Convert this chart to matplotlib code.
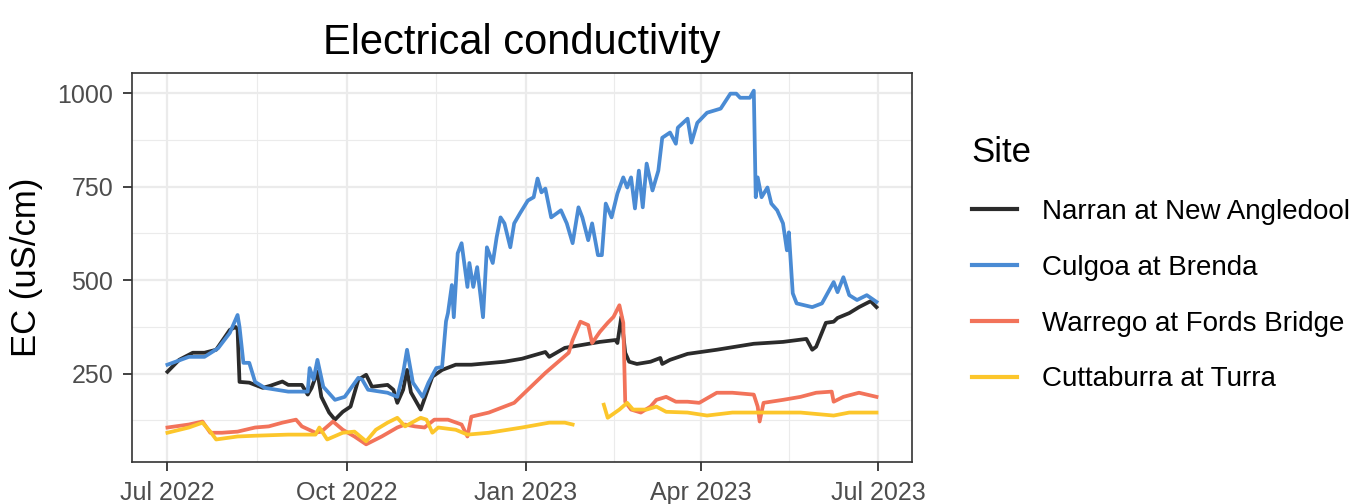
import matplotlib
matplotlib.use("Agg")
import matplotlib.pyplot as plt
import matplotlib.dates as mdates
import numpy as np
import pandas as pd

plt.rcParams['font.family'] = ['Liberation Sans', 'DejaVu Sans']

start = pd.Timestamp('2022-07-01')

# daily EC readings, keyed by days since 1 Jul 2022
narran_day = [0, 6, 13, 19, 25, 32, 35, 36, 37, 42, 49, 53, 59, 62, 69, 72, 74, 77, 79, 83,
              86, 90, 94, 98, 102, 105, 113, 116, 118, 121, 123, 125, 130, 136, 141, 148, 156,
              173, 182, 194, 196, 204, 213, 222, 230, 231, 233, 235, 237, 241, 248, 253, 254,
              258, 267, 282, 301, 316, 328, 331, 333, 338, 342, 344, 350, 355, 361, 364]
narran_ec = [255, 287, 306, 306, 314, 367, 375, 368, 228, 226, 212, 218, 229, 220, 220, 194,
             212, 255, 188, 146, 127, 148, 162, 234, 247, 215, 220, 207, 172, 207, 260, 200,
             154, 242, 260, 274, 274, 282, 290, 308, 295, 319, 327, 335, 340, 332, 402, 306,
             282, 276, 282, 292, 276, 287, 303, 314, 330, 335, 343, 314, 322, 386, 389, 399,
             412, 428, 444, 428]

culgoa_day = [0, 11, 19, 26, 32, 36, 37, 39, 42, 45, 50, 62, 72, 73, 75, 77, 80, 86, 91, 98,
              100, 103, 113, 118, 121, 123, 126, 131, 134, 138, 141, 143, 144, 146, 147, 149,
              151, 154, 155, 157, 159, 162, 164, 167, 169, 171, 173, 176, 178, 181, 185, 188,
              190, 192, 194, 197, 202, 205, 208, 211, 213, 216, 218, 221, 223, 225, 228, 231,
              234, 236, 238, 240, 242, 244, 246, 249, 252, 254, 258, 261, 262, 267, 269, 272,
              277, 284, 289, 292, 294, 299, 301, 302, 303, 305, 308, 310, 313, 316, 318, 319,
              321, 323, 331, 336, 342, 344, 347, 350, 354, 359, 364]
culgoa_ec = [274, 295, 295, 318, 359, 407, 375, 279, 279, 228, 212, 202, 202, 265, 234, 287,
             215, 180, 188, 239, 234, 207, 199, 188, 252, 314, 226, 188, 226, 265, 268, 390,
             412, 487, 401, 572, 599, 482, 546, 482, 535, 401, 588, 546, 615, 668, 652, 588,
             652, 679, 713, 722, 772, 735, 745, 668, 687, 652, 599, 695, 668, 607, 652, 567,
             567, 705, 668, 732, 775, 748, 775, 692, 793, 695, 812, 740, 793, 881, 895, 865,
             908, 932, 868, 921, 948, 959, 999, 999, 988, 988, 1007, 722, 775, 722, 748, 705,
             687, 652, 580, 628, 465, 438, 428, 438, 495, 468, 508, 460, 447, 460, 442]

warrego_day = [0, 11, 18, 22, 28, 36, 45, 52, 59, 66, 69, 76, 79, 85, 90, 96, 102, 110, 118,
               122, 127, 132, 137, 144, 151, 154, 156, 165, 173, 178, 185, 194, 200, 206, 208,
               212, 216, 218, 222, 226, 229, 232, 234, 235, 238, 243, 248, 251, 256, 261, 267,
               273, 282, 290, 301, 303, 304, 306, 316, 325, 333, 341, 342, 347, 355, 364]
warrego_ec = [106, 114, 122, 92, 92, 95, 106, 109, 119, 127, 109, 92, 95, 122, 100, 82, 61,
              82, 106, 114, 109, 106, 127, 127, 114, 82, 135, 146, 162, 172, 207, 252, 279,
              306, 340, 389, 380, 332, 362, 386, 402, 433, 386, 175, 154, 146, 162, 180, 188,
              175, 175, 172, 199, 199, 194, 162, 122, 172, 180, 188, 199, 202, 175, 188, 199,
              188]

# no readings between mid Jan and mid Feb 2023 at Turra
cuttaburra_day = [0, 11, 18, 22, 25, 36, 45, 62, 76, 78, 82, 90, 96, 102, 107, 113, 118, 122,
                  130, 133, 136, 139, 148, 154, 165, 182, 196, 204, 208, 216, 224, 226, 232,
                  236, 239, 246, 251, 256, 267, 277, 290, 308, 325, 342, 350, 364]
cuttaburra_ec = [92, 106, 119, 95, 74, 82, 84, 87, 87, 106, 74, 92, 95, 69, 100, 119, 132,
                 109, 132, 127, 92, 106, 100, 87, 92, 106, 119, 119, 114, np.nan, 167, 132,
                 154, 172, 154, 154, 162, 148, 146, 138, 146, 146, 146, 138, 146, 146]

sites = ['Narran at New Angledool', 'Culgoa at Brenda',
         'Warrego at Fords Bridge', 'Cuttaburra at Turra']
colours = ['#2b2b2b', '#4a8bd4', '#f2735a', '#fcc62b']
series = [(narran_day, narran_ec), (culgoa_day, culgoa_ec),
          (warrego_day, warrego_ec), (cuttaburra_day, cuttaburra_ec)]

fig = plt.figure(figsize=(13.72, 5.04), dpi=100)
ax = fig.add_axes([0.0962, 0.0833, 0.5685, 0.7719])

for (day, ec), name, col in zip(series, sites, colours):
    dates = start + pd.to_timedelta(day, unit='D')
    ax.plot(dates, ec, color=col, lw=2.7, label=name, solid_joinstyle='round')

# ggplot-style 5% padding on both axes
all_days = np.concatenate([np.asarray(d, float) for d, _ in series])
all_ec = np.concatenate([np.asarray(v, float) for _, v in series])
d0, d1 = all_days.min(), all_days.max()
pad = 0.05 * (d1 - d0)
ax.set_xlim(start + pd.Timedelta(days=d0 - pad), start + pd.Timedelta(days=d1 + pad))
lo, hi = np.nanmin(all_ec), np.nanmax(all_ec)
ax.set_ylim(lo - 0.05 * (hi - lo), hi + 0.05 * (hi - lo))

major_x = pd.to_datetime(['2022-07-01', '2022-10-01', '2023-01-01', '2023-04-01', '2023-07-01'])
minor_x = pd.to_datetime(['2022-08-16', '2022-11-16', '2023-02-15', '2023-05-16'])
ax.set_xticks(major_x)
ax.set_xticks(minor_x, minor=True)
ax.xaxis.set_major_formatter(mdates.DateFormatter('%b %Y'))
ax.set_yticks([250, 500, 750, 1000])
ax.set_yticks([125, 375, 625, 875], minor=True)

ax.grid(which='major', color='#ebebeb', lw=1.6)
ax.grid(which='minor', color='#ebebeb', lw=0.8)
ax.set_axisbelow(True)
for sp in ax.spines.values():
    sp.set_color('#333333')
    sp.set_linewidth(1.2)

ax.tick_params(which='major', length=6.5, width=1.3, color='#333333',
               labelsize=18, labelcolor='#4d4d4d', pad=7)
ax.tick_params(which='minor', length=0)

ax.set_ylabel('EC (uS/cm)', fontsize=25, labelpad=10)
ax.set_title('Electrical conductivity', fontsize=30, pad=14)

leg = fig.legend(loc='upper left', bbox_to_anchor=(0.690, 0.779), frameon=False,
                 title='Site', fontsize=20, title_fontsize=25, alignment='left',
                 handlelength=1.62, handletextpad=0.9, labelspacing=1.07)
for line in leg.get_lines():
    line.set_linewidth(3)

fig.savefig('out.png', dpi=100)
